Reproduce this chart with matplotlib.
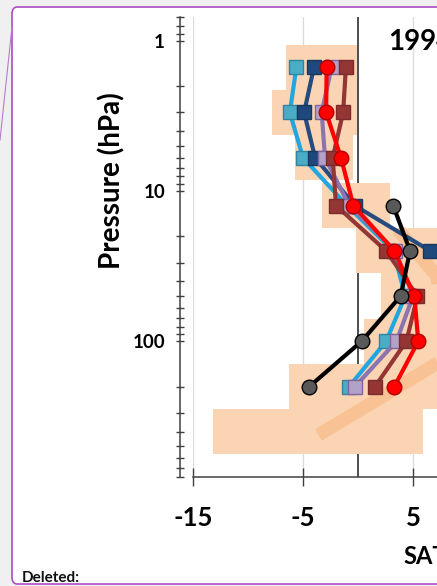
import numpy as np
import matplotlib
matplotlib.use("Agg")
import matplotlib.pyplot as plt
from matplotlib.patches import FancyBboxPatch
from matplotlib.lines import Line2D
from matplotlib.ticker import NullFormatter, LogLocator

plt.rcParams['font.family'] = ['Lato', 'DejaVu Sans']

nan = np.nan

# =========================================================
# DATA
# =========================================================
levels = [1.5, 3, 6, 12.5, 25, 50, 100, 200]

lightblue = [-5.6, -6.2, -5.0, -1.0, 3.2, 4.3, 2.55, -0.8]
darkblue = [-4.0, -4.9, -3.9, -0.3, 6.55, nan, nan, nan]
purple = [-2.4, -3.3, -3.0, -0.8, 3.4, 5.0, 3.5, -0.27]
brown = [-1.1, -1.35, -2.3, -2.0, 2.55, 5.4, 4.4, 1.55]
red = [-2.85, -2.9, -1.55, -0.42, 3.3, 5.12, 5.48, 3.3]
black = [nan, nan, nan, 3.2, 4.73, 3.88, 0.33, -4.42]

box_levels = [1.5, 3, 6, 12.5, 25, 50, 100, 200, 400]
box_lo = [-6.55, -7.85, -5.7, -3.3, -0.2, 2.1, 0.55, -6.3, -13.2]
box_hi = [-0.1, -0.1, -0.45, 2.9, 10, 10, 10, 10, 5.9]

band_x = [3.6, 7.2, 7.6, 7.4, 2.45, -3.6]
band_p = [18, 37, 70, 137, 228, 420]

xticks = [-15, -5, 5]
xticklabels = ['-15', '-5', '5']
yticks = [1, 10, 100]
yticklabels = ['1', '10', '100']

W, H = 437, 586


def fx(px):
    return px / W


def fy(py):
    return 1 - py / H


# =========================================================
# FIGURE / PAGE BACKGROUND
# =========================================================
fig = plt.figure(figsize=(W / 100, H / 100), dpi=100)
fig.patch.set_facecolor('#f0f0f0')

page = FancyBboxPatch((fx(12), fy(584)), 1.2, fy(7) - fy(584),
                      boxstyle="round,pad=0,rounding_size=0.012",
                      transform=fig.transFigure, facecolor='white',
                      edgecolor='#a94fc4', linewidth=1.2, zorder=-2)
fig.patches.append(page)
fig.lines.append(Line2D([fx(12), fx(0)], [fy(27), fy(140)],
                        transform=fig.transFigure, color='#b77ad0', lw=0.8,
                        zorder=-1))

fig.text(fx(22), fy(578), 'Deleted:', fontsize=11, weight='bold',
         va='center', ha='left', color='#111111')

# =========================================================
# AXES
# =========================================================
xlo, xhi = -15, 25
ylo, yhi = 800, 0.7
ax_left, ax_bottom = 193, 477
ax_w = (xhi - xlo) * 11
ax_top = 40.7 + 150.3 * np.log10(yhi)
ax = fig.add_axes([fx(ax_left), fy(ax_bottom), ax_w / W, (ax_bottom - ax_top) / H])
ax.patch.set_alpha(0)
ax.set_zorder(1)

ax.set_yscale('log')
ax.set_xlim(xlo, xhi)
ax.set_ylim(ylo, yhi)

# shaded boxes
for p, lo, hi in zip(box_levels, box_lo, box_hi):
    ax.fill_betweenx([p / np.sqrt(2), p * np.sqrt(2)], lo, hi,
                     color='#fbd4b4', lw=0, zorder=1)

ax.plot(band_x, band_p, color='#f9bf8f', lw=9.5, alpha=0.85,
        solid_capstyle='butt', solid_joinstyle='round', zorder=1.3)

ax.axvline(0, color='#404040', lw=1.3, zorder=0.8)

series = [
    (lightblue, '#22a6e0', 's', '#4bacc6', '#31859c'),
    (darkblue, '#274b7e', 's', '#1f497d', '#17375e'),
    (purple, '#8a75b0', 's', '#b3a2c7', '#8064a2'),
    (brown, '#943634', 's', '#943634', '#7a2b2a'),
    (red, '#ff0000', 'o', '#ff0000', '#b00000'),
    (black, '#000000', 'o', '#595959', '#000000'),
]
for i, (vals, lc, mk, fc, ec) in enumerate(series):
    ax.plot(vals, levels, color=lc, lw=3.0, marker=mk, markersize=10.5,
            markerfacecolor=fc, markeredgecolor=ec, markeredgewidth=1.0,
            zorder=3 + i)

# spines and ticks
ax.spines['top'].set_visible(False)
ax.spines['right'].set_visible(False)
ax.spines['left'].set_position(('outward', 9.4))
for s in ['left', 'bottom']:
    ax.spines[s].set_color('#404040')
    ax.spines[s].set_linewidth(1.1)

ax.set_xticks(xticks)
ax.set_xticklabels(xticklabels)
ax.tick_params(axis='x', direction='inout', length=13.5, width=1.0,
               color='#404040', pad=14, labelsize=18.5)
ax.set_yticks(yticks)
ax.set_yticklabels(yticklabels)
ax.yaxis.set_minor_locator(LogLocator(base=10, subs=np.arange(2, 10)))
ax.yaxis.set_minor_formatter(NullFormatter())
ax.tick_params(axis='y', which='both', direction='inout', length=5.5,
               width=1.0, color='#404040', pad=8, labelsize=13.5)
for lab in ax.get_xticklabels() + ax.get_yticklabels():
    lab.set_fontweight('bold')

ax.xaxis.grid(True, color='#d9d9d9', lw=0.9)
ax.set_axisbelow(True)

# labels
fig.text(fx(112), fy(181), 'Pressure (hPa)', rotation=90, fontsize=20,
         weight='bold', ha='center', va='center')
fig.text(fx(388), fy(42), '1994', fontsize=20, weight='bold',
         ha='left', va='center')
fig.text(fx(403), fy(556), 'SAT', fontsize=17, weight='bold',
         ha='left', va='center')

fig.savefig('out.png', dpi=100)
